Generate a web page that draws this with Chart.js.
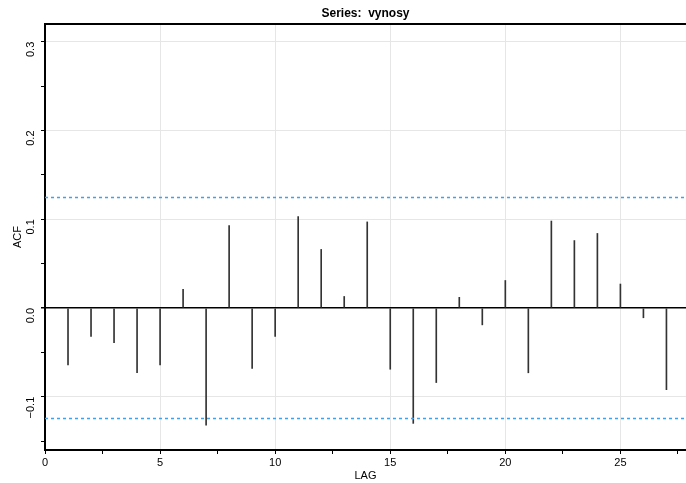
<!DOCTYPE html>
<html>
<head>
<meta charset="utf-8">
<script src="https://cdn.jsdelivr.net/npm/chart.js@4.4.1/dist/chart.umd.min.js"></script>
<style>
  html, body { margin: 0; padding: 0; background: #fff; }
  .acf-grafik { width: 686px; height: 483px; }
</style>
</head>
<body>
<div class="acf-grafik"><canvas id="acf"></canvas></div>
<script>
const lags = [1, 2, 3, 4, 5, 6, 7, 8, 9, 10, 11, 12, 13, 14, 15, 16, 17, 18, 19, 20, 21, 22, 23, 24, 25, 26, 27];
const acfValues = [-0.064, -0.032, -0.039, -0.073, -0.064, 0.021, -0.132, 0.093, -0.068, -0.032,
  0.103, 0.066, 0.013, 0.097, -0.069, -0.130, -0.084, 0.012, -0.019, 0.031,
  -0.073, 0.098, 0.076, 0.084, 0.027, -0.011, -0.092];
const confBound = 0.1245;
const xRange = [0, 27.85];
const yRange = [-0.16, 0.32];

const font = 'Liberation Sans, Arial, Helvetica, sans-serif';
const isMult = (v, step) => Math.abs(Math.round(v / step) * step - v) < 1e-6;
const tickVal = c => (c.tick ? c.tick.value : NaN);

// dashed confidence band line, same for +/- bound
const bandLine = y => ({
  type: 'line',
  data: [{ x: xRange[0], y: y }, { x: xRange[1], y: y }],
  borderColor: '#3aa3f5',
  backgroundColor: '#3aa3f5',
  borderWidth: 1.3,
  borderDash: [3, 3],
  fill: false,
  pointRadius: 0,
  order: 1
});

const ctx = document.getElementById('acf').getContext('2d');
new Chart(ctx, {
  type: 'bar',
  data: {
    datasets: [
      {
        type: 'bar',
        data: lags.map((l, i) => ({ x: l, y: [0, acfValues[i]] })),
        backgroundColor: '#333',
        borderWidth: 0,
        barThickness: 1,
        order: 2
      },
      bandLine(confBound),
      bandLine(-confBound)
    ]
  },
  options: {
    responsive: true,
    maintainAspectRatio: false,
    animation: false,
    layout: { padding: { left: 0, right: 0, top: 0, bottom: 0 } },
    plugins: {
      legend: { display: false },
      tooltip: { enabled: false },
      title: {
        display: true,
        text: 'Series:  vynosy',
        fullSize: false,
        color: '#000',
        font: { family: font, size: 12, weight: 'bold', lineHeight: 1.2 },
        padding: { top: 6, bottom: 3.6 }
      }
    },
    scales: {
      x: {
        type: 'linear',
        min: xRange[0],
        max: xRange[1],
        offset: false,
        afterFit: s => { s.height = 33; },
        border: { color: '#000', width: 2 },
        grid: {
          offset: false,
          color: c => isMult(tickVal(c), 5) ? '#e6e6e6' : 'rgba(0,0,0,0)',
          tickColor: '#000',
          tickLength: 4,
          lineWidth: 1
        },
        ticks: {
          stepSize: 2.5,
          includeBounds: false,
          autoSkip: false,
          maxRotation: 0,
          color: '#000',
          padding: 2,
          font: { family: font, size: 11 },
          callback: v => isMult(v, 5) ? String(v) : ''
        },
        title: {
          display: true,
          text: 'LAG',
          color: '#000',
          font: { family: font, size: 11 },
          padding: { top: 0, bottom: 0 }
        }
      },
      xTop: {
        type: 'linear',
        position: 'top',
        min: xRange[0],
        max: xRange[1],
        offset: false,
        afterFit: s => { s.height = 0; },
        border: { display: true, color: '#000', width: 2 },
        grid: { display: false },
        ticks: { display: false }
      },
      y: {
        type: 'linear',
        min: yRange[0],
        max: yRange[1],
        afterFit: s => { s.width = 45; },
        border: { color: '#000', width: 2 },
        grid: {
          color: c => Math.abs(tickVal(c)) < 1e-6 ? '#000' : (isMult(tickVal(c), 0.1) ? '#e6e6e6' : 'rgba(0,0,0,0)'),
          lineWidth: c => Math.abs(tickVal(c)) < 1e-6 ? 1.5 : 1,
          tickColor: '#000',
          tickLength: 4
        },
        ticks: {
          stepSize: 0.05,
          includeBounds: false,
          autoSkip: false,
          minRotation: 90,
          maxRotation: 90,
          color: '#000',
          padding: 10,
          font: { family: font, size: 11 },
          callback: v => isMult(v, 0.1) ? (v < 0 ? '\u2212' : '') + Math.abs(v).toFixed(1) : ''
        },
        title: {
          display: true,
          text: 'ACF',
          color: '#000',
          font: { family: font, size: 11 },
          padding: { top: 11, bottom: 0 }
        }
      }
    }
  }
});
</script>
</body>
</html>
